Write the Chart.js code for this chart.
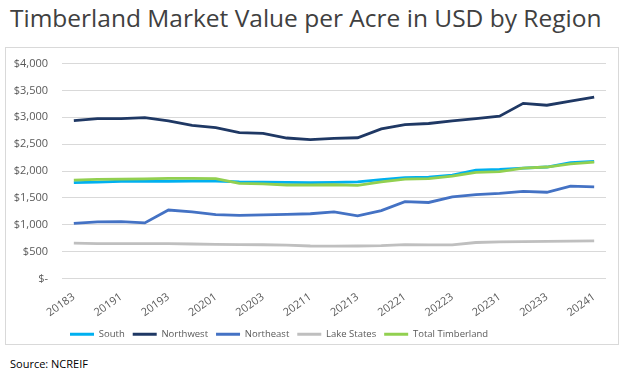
<!DOCTYPE html>
<html>
<head>
<meta charset="utf-8">
<script src="https://cdn.jsdelivr.net/npm/chart.js@4.4.1/dist/chart.umd.min.js"></script>
<style>
  body { margin: 0; background: #fff; width: 624px; height: 372px; overflow: hidden; position: relative; }
  #title { position: absolute; left: 10px; top: 1px; font-family: 'Open Sans', sans-serif; font-size: 24.5px; color: #404040; white-space: nowrap; }
  #box { position: absolute; left: 5px; top: 47px; width: 614px; height: 298px; border: 1px solid #d9d9d9; box-sizing: border-box; }
  #chart { position: absolute; left: 6px; top: 43px; }
  #source { position: absolute; left: 10px; top: 356px; font-family: 'Open Sans', sans-serif; font-size: 11px; color: #000; }
</style>
</head>
<body>
<div id="title">Timberland Market Value per Acre in USD by Region</div>
<div id="box"></div>
<div id="source">Source: NCREIF</div>
<canvas id="chart" width="612" height="308"></canvas>
<script>
// Quarterly market value per acre (USD), 2018 Q3 – 2024 Q1
const quarters = ['20183', '20184', '20191', '20192', '20193', '20194', '20201', '20202',
  '20203', '20204', '20211', '20212', '20213', '20214', '20221', '20222', '20223', '20224',
  '20231', '20232', '20233', '20234', '20241'];

const south = [1785, 1795, 1810, 1815, 1810, 1815, 1815, 1800, 1795, 1790, 1785, 1790, 1800,
  1840, 1875, 1885, 1925, 2015, 2030, 2055, 2075, 2155, 2180];
const northwest = [2940, 2975, 2975, 2995, 2935, 2850, 2810, 2715, 2700, 2615, 2585, 2610, 2620,
  2785, 2865, 2885, 2935, 2975, 3020, 3260, 3225, 3300, 3375];
const northeast = [1025, 1055, 1060, 1035, 1275, 1240, 1190, 1175, 1185, 1195, 1205, 1240, 1165,
  1265, 1430, 1415, 1520, 1560, 1585, 1620, 1605, 1720, 1705];
const lakeStates = [660, 650, 648, 650, 648, 642, 635, 630, 628, 620, 605, 603, 605,
  612, 630, 625, 625, 670, 682, 686, 690, 697, 700];
const totalTimberland = [1830, 1845, 1850, 1855, 1865, 1865, 1860, 1770, 1760, 1740, 1740, 1745, 1735,
  1800, 1850, 1860, 1905, 1975, 1990, 2055, 2075, 2135, 2165];

const yTicks = [0, 500, 1000, 1500, 2000, 2500, 3000, 3500, 4000];

// later entries are drawn on top (lower order = drawn last)
const SERIES = [
  { label: 'South',             data: south,           color: '#00b0f0', order: 5 },
  { label: 'Northwest',         data: northwest,       color: '#1f3864', order: 4 },
  { label: 'Northeast',         data: northeast,       color: '#4472c4', order: 3 },
  { label: 'Lake States',       data: lakeStates,      color: '#bfbfbf', order: 2 },
  { label: 'Total Timberland',  data: totalTimberland, color: '#92d050', order: 1 }
];

const axisFont = { family: "'Open Sans', sans-serif", size: 11 };

new Chart(document.getElementById('chart'), {
  type: 'line',
  data: {
    labels: quarters,
    datasets: SERIES.map(s => ({
      label: s.label,
      data: s.data,
      borderColor: s.color,
      backgroundColor: s.color,
      borderWidth: 2.8,
      pointRadius: 0,
      tension: 0,
      order: s.order
    }))
  },
  options: {
    responsive: false,
    animation: false,
    devicePixelRatio: 1,
    layout: { padding: { top: 6, left: 0, right: 12, bottom: 2 } },
    plugins: {
      tooltip: { enabled: false },
      legend: {
        position: 'bottom',
        fullSize: false,
        align: 'start',
        labels: {
          sort: (a, b) => a.datasetIndex - b.datasetIndex,
          usePointStyle: true,
          pointStyle: 'line',
          pointStyleWidth: 24,
          padding: 8,
          color: '#595959',
          font: { family: "'Open Sans', sans-serif", size: 9.5 }
        }
      }
    },
    scales: {
      x: {
        offset: true,
        grid: { display: false },
        border: { display: false },
        afterFit: s => { s.height = 43; },
        ticks: {
          autoSkip: false,
          minRotation: 35,
          maxRotation: 35,
          padding: 4,
          color: '#595959',
          font: axisFont,
          callback: (v, i) => (i % 2 === 0 ? quarters[i] : '')
        }
      },
      y: {
        min: 0,
        max: 4000,
        afterFit: s => { s.width = 56; },
        afterBuildTicks: s => { s.ticks = yTicks.map(v => ({ value: v })); },
        grid: { color: '#d9d9d9', lineWidth: 1, drawTicks: false },
        border: { display: false },
        ticks: {
          padding: 14,
          color: '#595959',
          font: axisFont,
          callback: v => (v === 0 ? '$-' : '$' + Number(v).toLocaleString('en-US'))
        }
      }
    }
  }
});
</script>
</body>
</html>
